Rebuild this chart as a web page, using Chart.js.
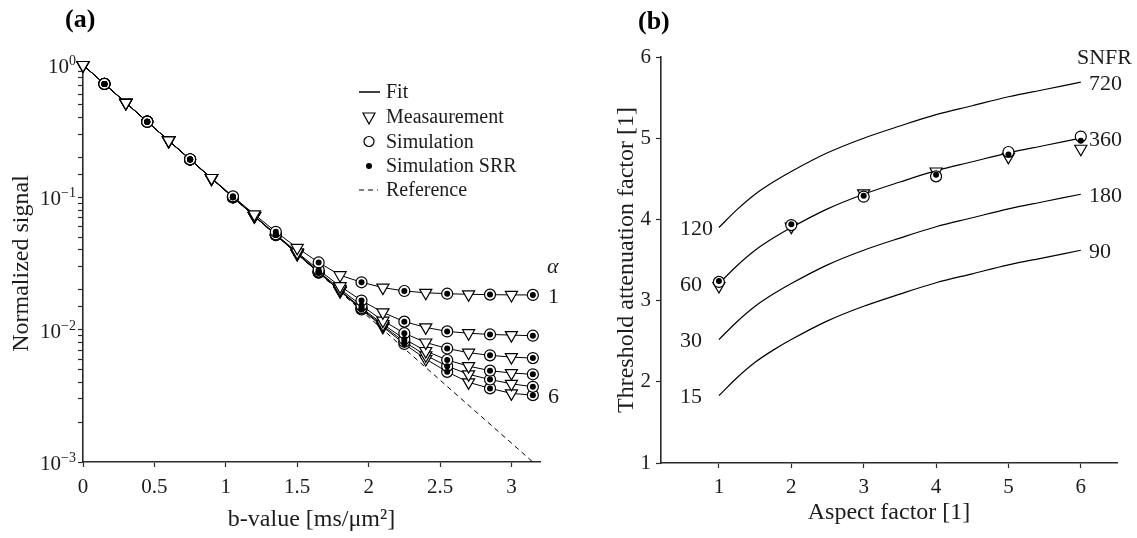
<!DOCTYPE html>
<html>
<head>
<meta charset="utf-8">
<script src="https://cdn.jsdelivr.net/npm/chart.js@4.4.1/dist/chart.umd.min.js"></script>
<style>
  body { margin: 0; background: #fff; }
  #wrap { position: relative; width: 1137px; height: 538px; }
  canvas { position: absolute; top: 0; }
  #chartA { left: 0; }
  #chartB { left: 570px; }
</style>
</head>
<body>
<div id="wrap">
  <canvas id="chartA" width="570" height="538"></canvas>
  <canvas id="chartB" width="567" height="538"></canvas>
</div>
<script>
const FONT = "'Liberation Serif', 'Times New Roman', serif";
const INK = '#1c1c1c';
const AXIS = '#2a2a2a';

// ---- (a) signal decay, one series per alpha ----
const bValues = [0, 0.15, 0.3, 0.45, 0.6, 0.75, 0.9, 1.05, 1.2, 1.35, 1.5,
  1.65, 1.8, 1.95, 2.1, 2.25, 2.4, 2.55, 2.7, 2.85, 3.0, 3.15];
const alpha1 = [1.0, 0.72, 0.518, 0.373, 0.269, 0.194, 0.140, 0.1017, 0.0743,
  0.0549, 0.0415, 0.0322, 0.0258, 0.0228, 0.0208, 0.0196, 0.0190, 0.0187,
  0.0185, 0.0184, 0.0183, 0.0183];
const alpha2 = [1.0, 0.72, 0.518, 0.373, 0.268, 0.193, 0.139, 0.1004, 0.0725,
  0.0526, 0.0384, 0.0283, 0.0213, 0.0166, 0.0135, 0.0115, 0.0104, 0.0097,
  0.0094, 0.0092, 0.0091, 0.0090];
const alpha3 = [1.0, 0.72, 0.518, 0.373, 0.268, 0.193, 0.139, 0.1002, 0.0722,
  0.0522, 0.0378, 0.0275, 0.0203, 0.0152, 0.0117, 0.0094, 0.0080, 0.0072,
  0.0067, 0.0064, 0.0062, 0.0061];
const alpha4 = [1.0, 0.72, 0.518, 0.373, 0.268, 0.193, 0.139, 0.1001, 0.0721,
  0.0520, 0.0376, 0.0272, 0.0198, 0.0146, 0.0110, 0.0085, 0.0069, 0.0059,
  0.0053, 0.0049, 0.0047, 0.0046];
const alpha5 = [1.0, 0.72, 0.518, 0.373, 0.268, 0.193, 0.139, 0.1001, 0.0721,
  0.0519, 0.0375, 0.0271, 0.0197, 0.0144, 0.0107, 0.0081, 0.0064, 0.0053,
  0.0046, 0.0042, 0.0039, 0.0037];
const alpha6 = [1.0, 0.72, 0.518, 0.373, 0.268, 0.193, 0.139, 0.1000, 0.0720,
  0.0519, 0.0374, 0.0270, 0.0196, 0.0142, 0.0105, 0.0078, 0.0060, 0.0048,
  0.0040, 0.0036, 0.0033, 0.0032];
const alphaSeries = [alpha1, alpha2, alpha3, alpha4, alpha5, alpha6];
const refB = [0, 3.15];
const refSignal = [1, 0.001];
const decades = [1, 0.1, 0.01, 0.001];
const decadeExp = ['0', '\u22121', '\u22122', '\u22123'];
const legendLabels = ['Fit', 'Measaurement', 'Simulation', 'Simulation SRR', 'Reference'];

// ---- (b) threshold attenuation vs aspect factor ----
const aspect = [1, 2, 3, 4, 5, 6];
const measB = [3.18, 3.91, 4.32, 4.59, 4.77, 4.87];
const simB = [3.23, 3.93, 4.28, 4.53, 4.83, 5.02];
const srrB = [3.24, 3.94, 4.29, 4.55, 4.80, 4.97];
const aspectFine = [1, 1.25, 1.5, 1.75, 2, 2.5, 3, 3.5, 4, 4.5, 5, 5.5, 6];
const snfr720 = [3.90, 4.12, 4.31, 4.46, 4.59, 4.82, 5.00, 5.15, 5.29, 5.40, 5.51, 5.60, 5.69];
const snfr360 = [3.21, 3.43, 3.62, 3.77, 3.90, 4.13, 4.31, 4.46, 4.60, 4.71, 4.82, 4.91, 5.00];
const snfr180 = [2.52, 2.74, 2.93, 3.08, 3.21, 3.44, 3.62, 3.77, 3.91, 4.02, 4.13, 4.22, 4.31];
const snfr90 = [1.83, 2.05, 2.24, 2.39, 2.52, 2.75, 2.93, 3.08, 3.22, 3.33, 3.44, 3.53, 3.62];
const snfrCurves = [snfr720, snfr360, snfr180, snfr90];
const snfrLeft = ['120', '60', '30', '15'];
const snfrRight = ['720', '360', '180', '90'];

const pts = (xs, ys) => xs.map((x, i) => ({x, y: ys[i]}));
const plainNum = v => String(Math.round(v * 100) / 100);

// marker styles shared by both panels
const triStyle = {pointStyle: 'triangle', pointRotation: 180, pointRadius: 7,
  pointBackgroundColor: '#fff', pointBorderColor: '#000', pointBorderWidth: 1.2};
const ringStyle = {pointStyle: 'circle', pointRadius: 5.5,
  pointBackgroundColor: '#fff', pointBorderColor: '#000', pointBorderWidth: 1.2};
const dotStyle = {pointStyle: 'circle', pointRadius: 3,
  pointBackgroundColor: '#000', pointBorderColor: '#000', pointBorderWidth: 0};

const tickFont = {family: FONT, size: 21};
const titleFont = {family: FONT, size: 24};

function axisOpts(extra) {
  return Object.assign({
    border: {display: true, color: AXIS, width: 1.6},
    grid: {drawOnChartArea: false, drawTicks: true, tickLength: 5, tickColor: AXIS, tickWidth: 1.2}
  }, extra);
}

// ---------- panel (a) ----------
const dsA = [];
alphaSeries.forEach(s => {
  dsA.push({data: pts(bValues, s), showLine: true, borderColor: '#000',
    borderWidth: 1, pointRadius: 0, order: 4, clip: false});
  dsA.push(Object.assign({data: pts(bValues, s).filter((p, i) => i % 2 === 0),
    order: 3, clip: false}, triStyle));
  dsA.push(Object.assign({data: pts(bValues, s).filter((p, i) => i % 2 === 1),
    order: 2, clip: false}, ringStyle));
  dsA.push(Object.assign({data: pts(bValues, s).filter((p, i) => i % 2 === 1),
    order: 1, clip: false}, dotStyle));
});
dsA.push({data: pts(refB, refSignal), showLine: true, borderColor: '#000',
  borderWidth: 1, borderDash: [5, 4], pointRadius: 0, order: 5});

const decorA = {
  id: 'decorA',
  afterDraw(chart) {
    const {ctx, scales: {y}} = chart;
    ctx.save();
    ctx.fillStyle = INK;
    // log tick labels with superscripts
    decades.forEach((v, i) => {
      const py = y.getPixelForValue(v);
      ctx.font = `14px ${FONT}`;
      const ew = ctx.measureText(decadeExp[i]).width;
      ctx.font = `21px ${FONT}`;
      const bw = ctx.measureText('10').width;
      const x0 = 76 - ew - bw;
      ctx.textAlign = 'left';
      ctx.textBaseline = 'alphabetic';
      ctx.fillText('10', x0, py + 8);
      ctx.font = `14px ${FONT}`;
      ctx.fillText(decadeExp[i], x0 + bw, py);
    });
    // legend
    const lx = 369, rows = [92, 117, 141.5, 166, 190];
    ctx.strokeStyle = '#000';
    ctx.lineWidth = 1.5;
    ctx.beginPath(); ctx.moveTo(359, rows[0]); ctx.lineTo(380, rows[0]); ctx.stroke();
    ctx.lineWidth = 1.2;
    ctx.beginPath();
    ctx.moveTo(lx - 6, rows[1] - 4); ctx.lineTo(lx + 6, rows[1] - 4); ctx.lineTo(lx, rows[1] + 7);
    ctx.closePath(); ctx.stroke();
    ctx.beginPath(); ctx.arc(lx, rows[2], 5, 0, Math.PI * 2); ctx.stroke();
    ctx.fillStyle = '#000';
    ctx.beginPath(); ctx.arc(lx, rows[3], 3, 0, Math.PI * 2); ctx.fill();
    ctx.lineWidth = 1;
    ctx.setLineDash([5, 4]);
    ctx.beginPath(); ctx.moveTo(359, rows[4]); ctx.lineTo(378, rows[4]); ctx.stroke();
    ctx.setLineDash([]);
    ctx.fillStyle = INK;
    ctx.font = `20px ${FONT}`;
    ctx.textBaseline = 'middle';
    legendLabels.forEach((t, i) => ctx.fillText(t, 386, rows[i] + 1));
    // alpha labels
    ctx.font = `italic 22px ${FONT}`;
    ctx.fillText('\u03b1', 547, 267);
    ctx.font = `22px ${FONT}`;
    ctx.fillText('1', 548, y.getPixelForValue(alpha1[alpha1.length - 1]) + 2);
    ctx.fillText('6', 548, y.getPixelForValue(alpha6[alpha6.length - 1]) + 2);
    // panel tag
    ctx.font = `bold 26px ${FONT}`;
    ctx.fillStyle = '#000';
    ctx.fillText('(a)', 65, 20);
    ctx.restore();
  }
};

new Chart(document.getElementById('chartA'), {
  type: 'scatter',
  data: {datasets: dsA},
  options: {
    responsive: false,
    animation: false,
    events: [],
    layout: {padding: {top: 65, right: 30, left: 0, bottom: 0}},
    plugins: {legend: {display: false}, tooltip: {enabled: false}},
    scales: {
      x: axisOpts({
        type: 'linear', min: 0, max: 3.2,
        ticks: {stepSize: 0.5, includeBounds: false, font: tickFont, color: INK,
          padding: 8, maxRotation: 0, callback: plainNum},
        title: {display: true, text: 'b-value [ms/\u03bcm\u00b2]',
          font: titleFont, color: INK, padding: {top: 0, bottom: 4}},
        afterFit: s => { s.height = 76; }
      }),
      y: axisOpts({
        type: 'logarithmic', min: 0.001, max: 1,
        ticks: {autoSkip: false, callback: () => '', font: tickFont},
        title: {display: true, text: 'Normalized signal',
          font: titleFont, color: INK, padding: {top: 7, bottom: 0}},
        afterFit: s => { s.width = 83; }
      })
    }
  },
  plugins: [decorA]
});

// ---------- panel (b) ----------
const dsB = [];
snfrCurves.forEach(c => {
  dsB.push({data: pts(aspectFine, c), showLine: true, borderColor: '#000',
    borderWidth: 1.2, pointRadius: 0, cubicInterpolationMode: 'monotone', order: 4});
});
dsB.push(Object.assign({data: pts(aspect, measB), order: 3, clip: false}, triStyle));
dsB.push(Object.assign({data: pts(aspect, simB), order: 2, clip: false}, ringStyle));
dsB.push(Object.assign({data: pts(aspect, srrB), order: 1, clip: false}, dotStyle));

const decorB = {
  id: 'decorB',
  afterDraw(chart) {
    const {ctx, scales: {y}} = chart;
    ctx.save();
    ctx.fillStyle = INK;
    ctx.font = `22px ${FONT}`;
    ctx.textAlign = 'left';
    ctx.textBaseline = 'middle';
    snfrCurves.forEach((c, i) => {
      ctx.fillText(snfrLeft[i], 110, y.getPixelForValue(c[0]) + 2);
      ctx.fillText(snfrRight[i], 519, y.getPixelForValue(c[c.length - 1]) + 2);
    });
    ctx.fillText('SNFR', 507, 58);
    ctx.font = `bold 26px ${FONT}`;
    ctx.fillStyle = '#000';
    ctx.fillText('(b)', 68, 22);
    ctx.restore();
  }
};

new Chart(document.getElementById('chartB'), {
  type: 'scatter',
  data: {datasets: dsB},
  options: {
    responsive: false,
    animation: false,
    events: [],
    layout: {padding: {top: 57, right: 20, left: 0, bottom: 0}},
    plugins: {legend: {display: false}, tooltip: {enabled: false}},
    scales: {
      x: axisOpts({
        type: 'linear', min: 0.2, max: 6.5,
        ticks: {stepSize: 1, includeBounds: false, font: tickFont, color: INK,
          padding: 7, maxRotation: 0},
        title: {display: true, text: 'Aspect factor [1]',
          font: titleFont, color: INK, padding: {top: 0, bottom: 11}},
        afterFit: s => { s.height = 75; }
      }),
      y: axisOpts({
        type: 'linear', min: 1, max: 6,
        ticks: {stepSize: 1, font: tickFont, color: INK, padding: 5},
        title: {display: true, text: 'Threshold attenuation factor [1]',
          font: titleFont, color: INK, padding: {top: 42, bottom: 0}},
        afterFit: s => { s.width = 91; }
      })
    }
  },
  plugins: [decorB]
});
</script>
</body>
</html>
